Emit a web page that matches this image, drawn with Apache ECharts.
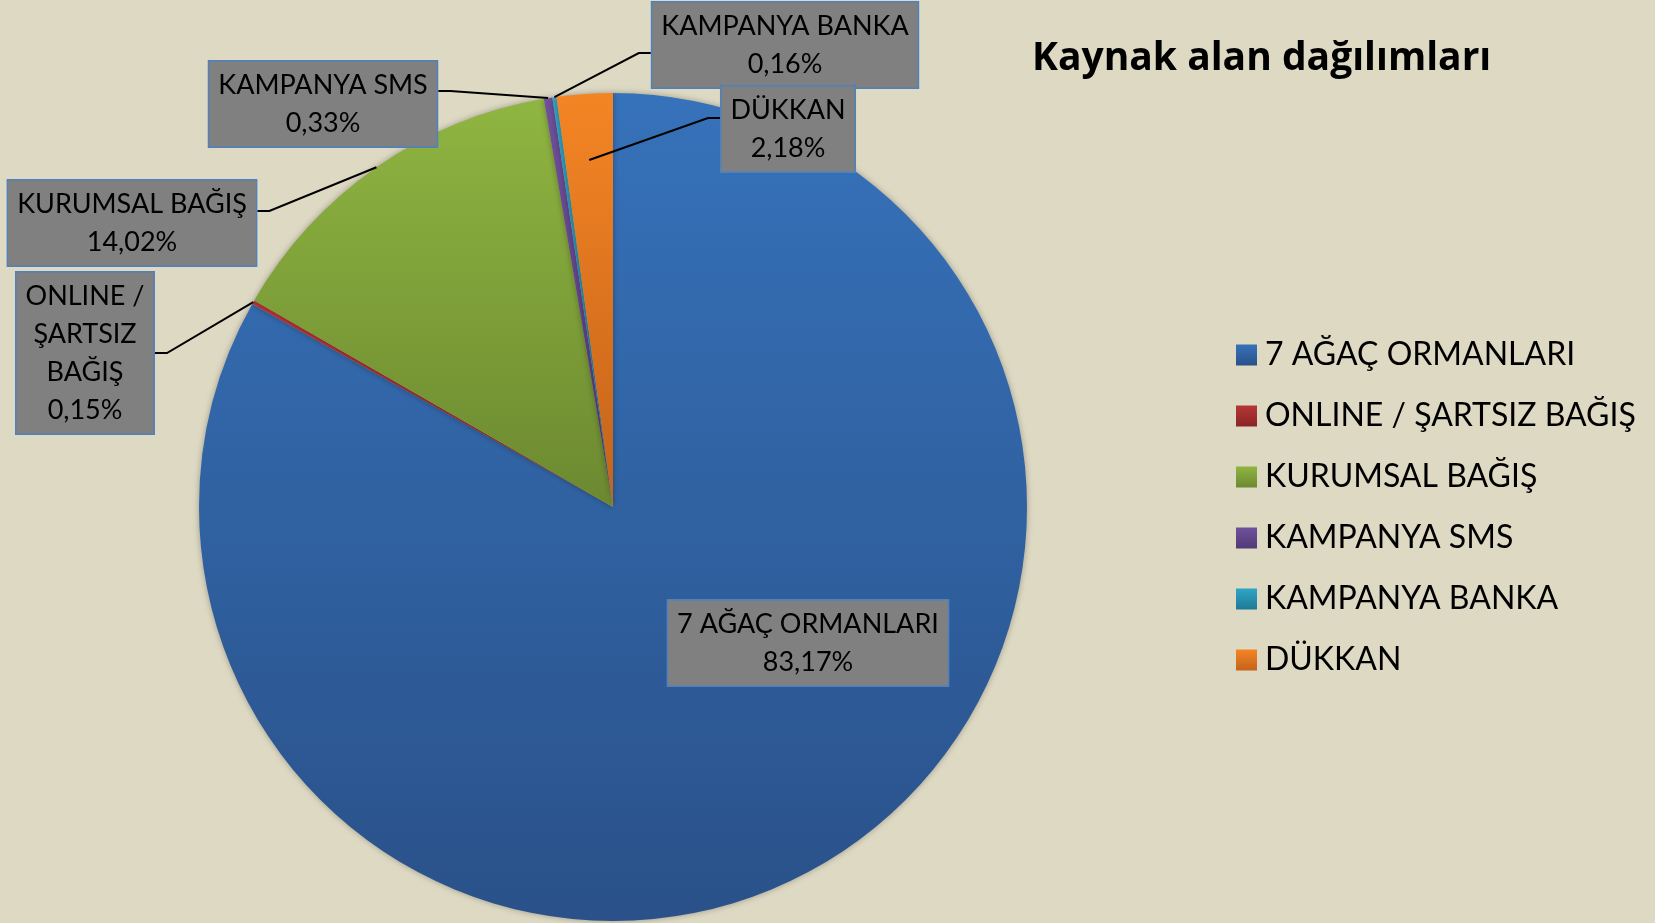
<!DOCTYPE html>
<html>
<head>
<meta charset="utf-8">
<script src="https://cdn.jsdelivr.net/npm/echarts@6/dist/echarts.min.js"></script>
<style>
  html, body { margin: 0; padding: 0; background: #ddd9c3; }
  #chart { width: 1655px; height: 923px; }
</style>
</head>
<body>
<div id="chart"></div>
<script>
// kaynak alanlar ve yüzdeleri
const categories = ['7 AĞAÇ ORMANLARI', 'ONLINE / ŞARTSIZ BAĞIŞ', 'KURUMSAL BAĞIŞ', 'KAMPANYA SMS', 'KAMPANYA BANKA', 'DÜKKAN'];
const values = [83.17, 0.15, 14.02, 0.33, 0.16, 2.18];
// etiket kutusunda satır kırılımı
const labelNames = ['7 AĞAÇ ORMANLARI', 'ONLINE /\nŞARTSIZ\nBAĞIŞ', 'KURUMSAL BAĞIŞ', 'KAMPANYA SMS', 'KAMPANYA BANKA', 'DÜKKAN'];

// renkler (üst, alt) - Excel gradyanı
const colorsTop = ['#3672ba', '#b73636', '#8fb541', '#70509c', '#2fa5c7', '#f48524'];
const colorsBottom = ['#2a5189', '#8a2525', '#6c8930', '#523a77', '#1f7995', '#c4631a'];

// etiket kutularının merkezleri ve çizginin bağlandığı kenar
const labelPos = [[808, 643], [85, 353], [132, 223], [323, 104], [785, 45], [788, 129]];
const labelSide = [0, 1, 1, 1, -1, -1]; // 1: sağ kenar, -1: sol kenar
const lineInset = [0, 0, 0, 0, 0, 0.16]; // çizgi başlangıcı dilimin içine doğru
const elbowDy = [0, 0, -12, -13, 8, -11]; // yatay parçanın kutu merkezine göre kayması

const pieCenter = [613, 507];
const pieRadius = 414;
const font = 'Lato, "Noto Sans", sans-serif';

function grad(i) {
  return new echarts.graphic.LinearGradient(0, 0, 0, 1, [
    { offset: 0, color: colorsTop[i] },
    { offset: 1, color: colorsBottom[i] }
  ]);
}

function pct(v) {
  return v.toFixed(2).replace('.', ',') + '%';
}

let chart = echarts.init(document.getElementById('chart'));

let option = {
  backgroundColor: '#ddd9c3',
  animation: false,
  title: {
    text: 'Kaynak alan dağılımları',
    left: 1032,
    top: 36,
    padding: 0,
    textStyle: { fontFamily: '"Open Sans", Lato, sans-serif', fontWeight: 'bold', fontSize: 39, lineHeight: 45, color: '#000' }
  },
  legend: {
    orient: 'vertical',
    left: 1236,
    top: 339,
    padding: 0,
    itemWidth: 21,
    itemHeight: 21,
    itemGap: 29,
    icon: 'rect',
    textStyle: { fontFamily: font, fontSize: 32, lineHeight: 31, color: '#000', padding: [0, 0, 0, 3] },
    data: categories
  },
  series: [
    // dilimler
    {
      type: 'pie',
      z: 2,
      center: pieCenter,
      radius: pieRadius,
      startAngle: 90,
      clockwise: true,
      emphasis: { scale: false },
      itemStyle: { shadowBlur: 6, shadowColor: 'rgba(0,0,0,0.3)' },
      label: { show: false },
      labelLine: { show: false },
      data: categories.map((name, i) => ({
        name: name,
        value: values[i],
        itemStyle: { color: grad(i) }
      }))
    },
    // etiketler ve çizgiler (dilimlerin üstünde)
    {
      type: 'pie',
      z: 5,
      silent: true,
      center: pieCenter,
      radius: pieRadius,
      startAngle: 90,
      clockwise: true,
      avoidLabelOverlap: false,
      emphasis: { disabled: true },
      itemStyle: { color: 'rgba(0,0,0,0)' },
      label: {
        show: true,
        position: 'outside',
        fontFamily: font,
        fontSize: 27,
        lineHeight: 38,
        color: '#000',
        align: 'center',
        backgroundColor: '#808080',
        borderColor: '#4f81bd',
        borderWidth: 1.5,
        padding: [5, 9, 4, 9],
        formatter: p => labelNames[p.dataIndex] + '\n' + pct(values[p.dataIndex])
      },
      labelLine: {
        show: true,
        minTurnAngle: 0,
        maxSurfaceAngle: 180,
        lineStyle: { color: '#000', width: 2 }
      },
      labelLayout: function (params) {
        const i = params.dataIndex;
        const c = labelPos[i];
        const res = { x: c[0], y: c[1], align: 'center', verticalAlign: 'middle' };
        if (labelSide[i] !== 0 && params.labelLinePoints) {
          const p0 = params.labelLinePoints[0];
          const k = 1 - lineInset[i];
          const start = [pieCenter[0] + (p0[0] - pieCenter[0]) * k, pieCenter[1] + (p0[1] - pieCenter[1]) * k];
          const edgeX = c[0] + labelSide[i] * params.labelRect.width / 2;
          const elbowX = edgeX + labelSide[i] * 12;
          const ly = c[1] + elbowDy[i];
          res.labelLinePoints = [start, [elbowX, ly], [edgeX, ly]];
        }
        return res;
      },
      data: categories.map((name, i) => ({
        name: name,
        value: values[i],
        label: i === 0 ? { position: 'inside' } : {},
        labelLine: i === 0 ? { show: false } : {}
      }))
    }
  ]
};

chart.setOption(option);
</script>
</body>
</html>
